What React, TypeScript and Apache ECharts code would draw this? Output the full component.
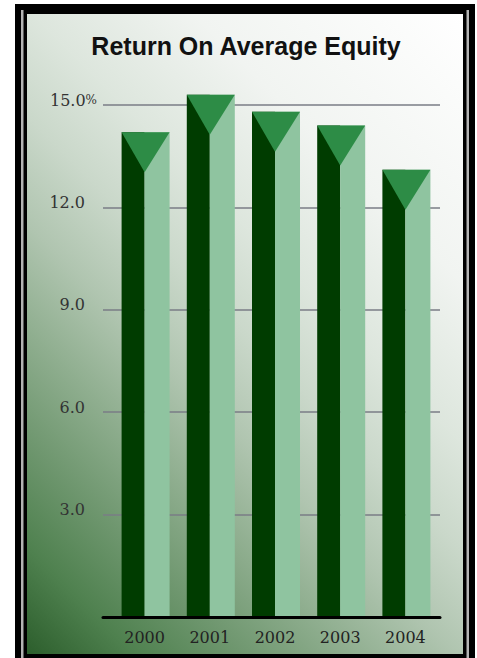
import React, { useEffect, useRef } from "react";
import * as echarts from "echarts";

const years = ["2000", "2001", "2002", "2003", "2004"];
const roeValues = [14.2, 15.3, 14.8, 14.4, 13.1];
const yTicks = [0, 3, 6, 9, 12, 15];
const titleText = "Return On Average Equity";

export default function App() {
  const ref = useRef<HTMLDivElement>(null);

  useEffect(() => {
    if (!ref.current) return;
    const chart = echarts.init(ref.current, undefined, { renderer: "svg" });

    const dark = "#003c00";
    const light = "#8fc4a0";
    const tri = "#2d8c46";

    const option: any = {
      animation: false,
      graphic: [
        { type: "rect", z: -20, silent: true, shape: { x: 15, y: 4, width: 460, height: 660 }, style: { fill: "#000" } },
        { type: "rect", z: -19, silent: true, shape: { x: 21, y: 10, width: 2.5, height: 660 }, style: { fill: "#b4b4b4" } },
        { type: "rect", z: -19, silent: true, shape: { x: 466.5, y: 10, width: 2.5, height: 660 }, style: { fill: "#b4b4b4" } },
        {
          type: "rect",
          z: -18,
          silent: true,
          shape: { x: 27, y: 14, width: 436, height: 640 },
          style: {
            fill: new echarts.graphic.LinearGradient(0, 1, 0.782, -0.148, [
              { offset: 0, color: "#2c5e2c" },
              { offset: 0.1, color: "#4f814f" },
              { offset: 0.2, color: "#6f976f" },
              { offset: 0.3, color: "#8fae8f" },
              { offset: 0.4, color: "#b0c5b0" },
              { offset: 0.5, color: "#cad8ca" },
              { offset: 0.6, color: "#dde6dd" },
              { offset: 0.75, color: "#f1f4f1" },
              { offset: 1, color: "#ffffff" },
            ]),
          },
        },
        {
          type: "text",
          z: 10,
          x: 246,
          y: 46,
          style: {
            text: titleText,
            fill: "#111",
            font: "bold 25px 'Liberation Sans', Arial, sans-serif",
            textAlign: "center",
            textVerticalAlign: "middle",
          },
        },
      ],
      grid: [
        { left: 103, right: 37, top: 105, bottom: 41 },
        { left: 112, right: 39, top: 105, bottom: 41 },
      ],
      xAxis: [
        {
          type: "category",
          gridIndex: 0,
          data: years,
          z: 5,
          axisLine: { show: true, lineStyle: { color: "#000", width: 3 } },
          axisTick: { show: false },
          axisLabel: { show: false },
        },
        {
          type: "category",
          gridIndex: 1,
          data: years,
          axisLine: { show: false },
          axisTick: { show: false },
          axisLabel: {
            margin: 12,
            fontFamily: "'DejaVu Serif', serif",
            fontSize: 16,
            color: "#222",
          },
        },
      ],
      yAxis: [
        {
          type: "value",
          gridIndex: 0,
          min: 0,
          max: 15,
          interval: 3,
          axisLine: { show: false },
          axisTick: { show: false },
          splitLine: { show: true, lineStyle: { color: "#7a7d86", width: 1.5 } },
          axisLabel: {
            margin: 6,
            formatter: (v: number) => {
              if (v === 0) return "";
              const s = v.toFixed(1);
              return v === yTicks[yTicks.length - 1] ? `{n|${s}}{p|%}` : `{m|${s}}`;
            },
            rich: {
              n: { fontFamily: "'DejaVu Serif', serif", fontSize: 16, color: "#333", padding: [0, 0, 10, 0] },
              p: { fontFamily: "'DejaVu Serif', serif", fontSize: 12, color: "#333", padding: [0, 0, 10, 0] },
              m: { fontFamily: "'DejaVu Serif', serif", fontSize: 16, color: "#333", padding: [0, 12, 10, 0] },
            },
          },
        },
        {
          type: "value",
          gridIndex: 1,
          min: 0,
          max: 15,
          interval: 3,
          show: false,
        },
      ],
      series: [
        {
          type: "custom",
          xAxisIndex: 1,
          yAxisIndex: 1,
          z: 2,
          encode: { x: 0, y: 1 },
          data: roeValues.map((v, i) => [i, v]),
          renderItem: (params: any, api: any) => {
            const idx = api.value(0);
            const v = api.value(1);
            const top = api.coord([idx, v]);
            const base = api.coord([idx, 0]);
            const cx = top[0];
            const L = cx - 23;
            const M = cx;
            const R = cx + 25;
            const h = base[1] - top[1];
            return {
              type: "group",
              children: [
                { type: "rect", shape: { x: L, y: top[1], width: M - L, height: h }, style: { fill: dark } },
                { type: "rect", shape: { x: M, y: top[1], width: R - M, height: h }, style: { fill: light } },
                {
                  type: "polygon",
                  shape: { points: [[L, top[1]], [R, top[1]], [M, top[1] + 40]] },
                  style: { fill: tri },
                },
              ],
            };
          },
        },
      ],
    };

    chart.setOption(option);
    return () => chart.dispose();
  }, []);

  return (
    <div
      ref={ref}
      style={{ position: "fixed", left: 0, top: 0, width: 477, height: 658, background: "#fff" }}
    />
  );
}
